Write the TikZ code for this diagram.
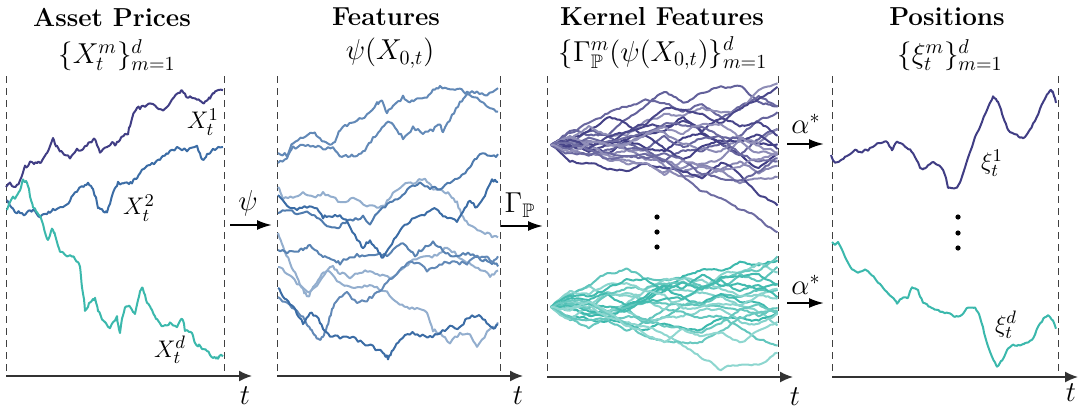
\documentclass[tikz,border=0pt]{standalone}
\usepackage{amsmath,amssymb}
\usetikzlibrary{arrows.meta}
\definecolor{cpur}{RGB}{64,61,132}
\definecolor{cblu}{RGB}{59,108,165}
\definecolor{ctea}{RGB}{59,184,172}
\newcommand\kpath[5]{%
  \draw[#1] (#3,#4) \foreach \x/\y [remember=\x as \px (initially #3), remember=\y as \py (initially #4)] in {#5} {%
    \foreach \k in {1,...,#2} { -- ({\px+(\x-\px)*\k/#2},{\py+(\y-\py)*\k/#2+\jit*rand}) }};}
\begin{document}
\begin{tikzpicture}[x=0.5pt,y=-0.5pt,
  ttl/.style={font=\fontsize{13}{15}\selectfont\bfseries, inner sep=0pt},
  mth/.style={font=\fontsize{13}{15}\selectfont, inner sep=0pt},
  hmth/.style={font=\fontsize{14}{16}\selectfont, inner sep=0pt},
  tlab/.style={font=\fontsize{14}{16}\selectfont, inner sep=0pt},
  dline/.style={draw=black!75, line width=0.5pt, dash pattern=on 3.5pt off 2.5pt},
  axis/.style={draw=black!80, line width=0.75pt, -{Latex[length=6.5pt,width=5.5pt]}},
  flow/.style={draw=black, line width=1pt, -{Latex[length=7.5pt,width=5pt]}},
  wpath/.style={line width=1pt, line join=round},
  dot/.style={circle, fill=black, inner sep=0pt, minimum size=2.6pt}]
\useasboundingbox (0,0) rectangle (1079,414);
\pgfmathsetseed{1234}
% ---------- titles ----------
\node[ttl] (t1) at (112,17) {Asset Prices};
\node[hmth] (m1) at (117,55) {$\{X_t^m\}_{m=1}^d$};
\node[ttl] (t2) at (386,17) {Features};
\node[hmth] (m2) at (390,53) {$\psi(X_{0,t})$};
\node[ttl] (t3) at (662,17) {Kernel Features};
\node[hmth] (m3) at (663,53) {$\{\Gamma^m_{\mathbb{P}}(\psi(X_{0,t})\}^d_{m=1}$};
\node[ttl] (t4) at (947,17) {Positions};
\node[hmth] (m4) at (950,55) {$\{\xi_t^m\}_{m=1}^d$};
% ---------- frames ----------
\foreach \n/\a/\b in {1/6/224, 2/277/500, 3/547/778, 4/832/1058} {
  \coordinate (la\n) at (\a,76); \coordinate (lb\n) at (\a,376);
  \coordinate (ra\n) at (\b,76); \coordinate (rb\n) at (\b,376);
  \draw[dline] (la\n) -- (lb\n);
  \draw[dline] (ra\n) -- (rb\n);
}
\coordinate (ax1) at (6,376);   \coordinate (ae1) at (252,376);
\coordinate (ax2) at (277,376); \coordinate (ae2) at (523,376);
\coordinate (ax3) at (547,377); \coordinate (ae3) at (793,377);
\coordinate (ax4) at (832,377); \coordinate (ae4) at (1078,377);
\foreach \n in {1,2,3,4} {\draw[axis] (ax\n) -- (ae\n);}
\node[tlab] (tt1) at (245,396) {$t$};
\node[tlab] (tt2) at (518,396) {$t$};
\node[tlab] (tt3) at (795,397) {$t$};
\node[tlab] (tt4) at (1071,393) {$t$};
% ---------- flow arrows ----------
\coordinate (f1a) at (230,225); \coordinate (f1b) at (272,225);
\coordinate (f2a) at (501,226); \coordinate (f2b) at (543,226);
\coordinate (f3a) at (787,144); \coordinate (f3b) at (824,144);
\coordinate (f4a) at (787,303); \coordinate (f4b) at (824,303);
\draw[flow] (f1a) -- (f1b);
\draw[flow] (f2a) -- (f2b);
\draw[flow] (f3a) -- (f3b);
\draw[flow] (f4a) -- (f4b);
\node[hmth] (lpsi) at (248,203) {$\psi$};
\node[hmth] (lgam) at (520,205) {$\Gamma_{\mathbb{P}}$};
\node[hmth] (lal1) at (806,124) {$\alpha^*$};
\node[hmth] (lal2) at (806,285) {$\alpha^*$};
% ---------- panel 1 ----------
\def\jit{1.5}
\kpath{wpath,cblu}{2}{7}{200}{10/207, 13/210, 17/213, 20/212, 24/215, 27/213, 30/211, 33/210, 37/215, 40/216, 43/213, 47/213, 50/212, 53/210, 57/209, 60/208, 63/207, 67/205, 70/200, 73/195, 77/191, 82/187, 85/185, 88/183, 91/186, 93/190, 96/198, 98/207, 100/209, 102/210, 105/213, 107/212, 110/203, 113/193, 116/187, 118/183, 122/183, 125/182, 129/183, 132/182, 135/179, 137/177, 140/173, 144/168, 147/165, 150/164, 154/163, 157/162, 160/159, 163/157, 165/156, 168/153, 172/151, 177/148, 182/149, 187/150, 192/148, 197/147, 200/153, 202/160, 205/157, 207/155, 210/152, 213/150, 217/149, 220/147, 223/148}
\kpath{wpath,cpur}{2}{6}{187}{10/183, 14/188, 17/186, 20/180, 23/172, 25/167, 28/165, 30/163, 34/164, 37/162, 40/163, 42/160, 45/155, 47/152, 50/146, 53/138, 55/143, 57/147, 60/150, 62/152, 66/155, 70/157, 73/153, 77/150, 80/151, 83/148, 87/146, 90/142, 93/140, 95/138, 97/145, 100/152, 103/149, 107/147, 110/144, 112/142, 115/144, 117/143, 120/139, 122/137, 125/135, 128/133, 130/125, 132/117, 135/110, 137/107, 140/108, 143/105, 147/106, 150/103, 153/105, 157/107, 160/110, 163/112, 167/106, 170/102, 174/98, 177/95, 180/92, 182/90, 185/94, 187/97, 190/96, 193/97, 197/99, 200/100, 203/103, 205/103, 208/100, 210/98, 213/94, 215/92, 219/91, 223/90}
\kpath{wpath,ctea}{2}{7}{210}{10/202, 13/198, 15/198, 18/193, 20/190, 22/183, 23/180, 25/181, 27/183, 29/190, 30/197, 32/203, 33/207, 35/210, 37/213, 40/217, 42/220, 44/227, 45/233, 47/238, 48/240, 50/234, 52/230, 54/232, 55/235, 58/245, 60/252, 63/253, 67/255, 70/256, 72/257, 74/258, 75/260, 78/263, 80/267, 81/277, 82/287, 84/300, 85/310, 88/306, 90/303, 93/300, 95/298, 97/305, 98/310, 101/316, 103/320, 106/324, 110/328, 113/322, 117/317, 118/325, 120/332, 122/318, 125/307, 128/306, 130/307, 133/312, 135/315, 138/300, 140/292, 142/288, 143/288, 145/296, 147/303, 150/307, 152/310, 155/316, 157/320, 160/324, 163/327, 167/325, 170/323, 173/326, 177/328, 180/322, 182/318, 184/325, 185/330, 189/332, 192/333, 194/340, 195/343, 198/345, 200/347, 204/349, 207/350, 210/354, 213/357, 216/358, 218/358, 221/356, 223/355}
\node[mth] (lx1) at (203,122) {$X_t^1$};
\node[mth] (lx2) at (139,208) {$X_t^2$};
\node[mth] (lxd) at (170,350) {$X_t^d$};
% ---------- panel 2 ----------
\def\jit{1.6}
\kpath{wpath,cblu!55}{4}{278}{187}{283/198, 293/197, 303/193, 313/198, 323/193, 333/198, 343/203, 353/198, 367/205, 377/208, 385/205, 393/193, 403/185, 413/183, 425/178, 433/188, 442/190, 450/195, 457/203, 463/217, 470/225, 480/230, 490/235, 498/238}
\kpath{wpath,cblu!55}{4}{278}{233}{283/247, 290/263, 297/277, 303/290, 308/297, 313/288, 320/277, 327/270, 333/267, 340/273, 350/277, 360/273, 370/270, 380/275, 390/278, 403/270, 413/260, 427/257, 437/255, 447/247, 457/255, 467/262, 473/267, 483/270, 490/277, 498/270}
\kpath{wpath,cblu!55}{4}{278}{267}{287/273, 297/283, 307/293, 317/287, 327/270, 337/280, 347/287, 357/288, 367/285, 377/288, 387/293, 397/303, 407/308, 417/308, 427/313, 433/330, 440/333, 450/343, 460/333, 470/333, 477/347, 487/333, 498/323}
\kpath{wpath,cblu!80}{4}{278}{153}{287/155, 293/142, 303/138, 313/132, 320/138, 328/145, 335/142, 340/130, 347/125, 357/120, 367/115, 377/103, 382/102, 387/112, 393/107, 403/97, 410/102, 417/98, 427/97, 433/90, 440/87, 450/90, 460/90, 467/93, 477/92, 487/95, 498/87}
\kpath{wpath,cblu!80}{4}{278}{163}{287/157, 293/148, 303/145, 313/145, 323/148, 333/148, 342/158, 350/155, 357/155, 365/150, 373/138, 380/130, 388/120, 395/128, 403/138, 413/128, 423/133, 433/130, 440/123, 443/133, 452/115, 460/103, 467/95, 477/97, 490/108, 498/112}
\kpath{wpath,cblu!85}{4}{278}{250}{287/252, 297/252, 303/249, 310/245, 317/252, 325/257, 333/260, 340/263, 347/258, 357/255, 367/257, 377/255, 387/255, 395/248, 403/243, 410/250, 415/255, 423/248, 433/243, 443/250, 453/257, 463/253, 473/255, 483/260, 492/263, 498/265}
\kpath{wpath,cblu!80}{4}{278}{297}{287/303, 297/310, 303/317, 308/325, 313/333, 318/340, 323/337, 327/327, 332/310, 337/300, 347/293, 357/303, 367/300, 377/293, 387/283, 397/273, 407/263, 417/262, 427/270, 437/267, 447/262, 457/263, 467/263, 477/257, 487/258, 493/262, 498/257}
\kpath{wpath,cblu!90}{4}{278}{213}{287/210, 297/213, 307/212, 317/218, 327/227, 337/228, 343/223, 353/220, 363/217, 370/223, 380/210, 390/203, 400/197, 410/187, 420/183, 430/188, 440/188, 450/182, 460/177, 467/170, 473/162, 480/153, 490/157, 498/155}
\kpath{wpath,cblu}{4}{278}{195}{287/207, 297/210, 307/207, 317/207, 323/217, 330/217, 340/215, 348/223, 357/240, 363/247, 370/240, 377/250, 383/258, 390/247, 398/233, 407/223, 417/217, 427/213, 437/208, 443/217, 452/217, 457/223, 463/212, 470/200, 477/208, 485/195, 492/180, 498/182}
\kpath{wpath,cblu}{4}{278}{288}{283/297, 290/303, 297/313, 303/323, 310/312, 317/317, 323/328, 330/335, 340/337, 353/338, 363/343, 373/347, 383/353, 388/358, 393/350, 400/340, 410/333, 420/335, 430/337, 440/332, 450/327, 460/328, 467/318, 477/315, 485/320, 492/328, 498/325}
% ---------- panel 3 ----------
\foreach \j in {1,...,20} {
  \pgfmathtruncatemacro\sh{45+mod(\j*37,56)}
  \draw[wpath, color=cpur!\sh] (551,145) \foreach \s [evaluate=\s as \sl using 1.9*rand] in {1,...,12} {\foreach \k in {1,...,8} { -- ++(2.36,{\sl+1.2*rand}) }};
}
\foreach \j in {1,...,20} {
  \pgfmathtruncatemacro\sh{45+mod(\j*37,56)}
  \draw[wpath, color=ctea!\sh] (551,307) \foreach \s [evaluate=\s as \sl using 1.7*rand] in {1,...,12} {\foreach \k in {1,...,8} { -- ++(2.36,{\sl+1.2*rand}) }};
}
\node[dot] (d1) at (657,217) {};
\node[dot] (d2) at (657,232) {};
\node[dot] (d3) at (657,247) {};
% ---------- panel 4 ----------
\def\jit{0.8}
\kpath{wpath,cpur}{2}{831}{155}{833/160, 835/163, 839/161, 842/160, 845/157, 848/155, 852/152, 855/150, 858/151, 862/152, 865/150, 868/150, 872/147, 875/145, 879/143, 883/142, 886/142, 888/143, 890/147, 892/150, 894/146, 897/142, 900/143, 903/145, 907/148, 910/150, 913/153, 915/157, 918/163, 920/168, 923/169, 925/168, 928/165, 932/162, 935/163, 938/165, 941/167, 943/170, 946/178, 948/187, 952/188, 957/188, 960/182, 962/177, 965/167, 968/157, 972/147, 975/137, 979/129, 982/122, 985/114, 988/107, 991/101, 993/97, 996/99, 998/102, 1001/110, 1003/117, 1006/124, 1008/130, 1012/133, 1017/135, 1020/137, 1023/138, 1027/135, 1030/130, 1033/124, 1037/117, 1040/109, 1043/102, 1047/95, 1050/90, 1052/91, 1053/93, 1055/98, 1056/103}
\kpath{wpath,ctea}{2}{832}{242}{835/245, 838/242, 841/248, 845/257, 848/263, 852/270, 855/271, 858/272, 862/271, 865/270, 868/272, 872/275, 875/278, 878/282, 882/286, 885/290, 888/293, 892/297, 895/300, 897/303, 900/300, 903/298, 906/298, 908/297, 910/292, 912/287, 915/288, 918/290, 920/296, 923/302, 927/305, 930/307, 933/309, 937/310, 940/311, 942/312, 945/313, 948/313, 952/315, 955/317, 958/316, 962/315, 965/311, 968/307, 972/307, 975/308, 978/312, 980/317, 983/327, 985/337, 988/347, 992/357, 995/363, 997/367, 1000/363, 1002/360, 1005/355, 1007/350, 1010/347, 1013/345, 1017/345, 1020/345, 1023/344, 1025/343, 1028/342, 1032/340, 1035/334, 1038/327, 1042/321, 1045/317, 1048/316, 1050/317, 1053/321, 1056/328}
\node[mth] (lxi1) at (992,163) {$\xi_t^1$};
\node[mth] (lxid) at (1006,325) {$\xi_t^d$};
\node[dot] (e1) at (958,217) {};
\node[dot] (e2) at (958,233) {};
\node[dot] (e3) at (958,248) {};
\end{tikzpicture}
\end{document}
